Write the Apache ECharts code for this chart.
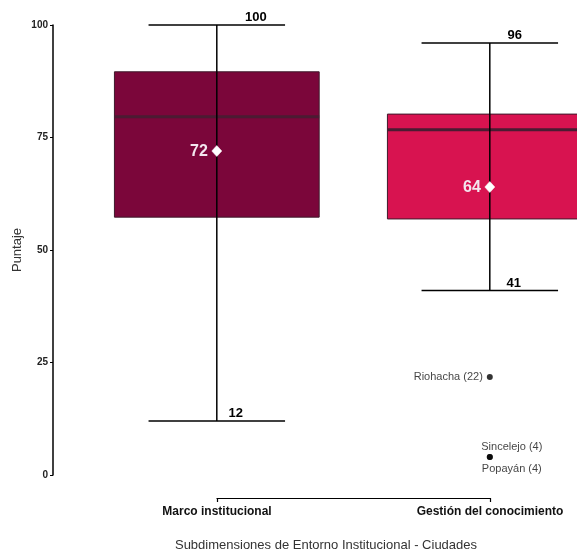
<!DOCTYPE html>
<html>
<head>
<meta charset="utf-8">
<script src="https://cdn.jsdelivr.net/npm/echarts@6/dist/echarts.min.js"></script>
<style>
html,body{margin:0;padding:0;background:#fff;}
#chart{width:577px;height:552px;}
</style>
</head>
<body>
<div id="chart"></div>
<script>
// ---- data ----
var categories = ['Marco institucional', 'Gestión del conocimiento'];
var whiskerLow = [12, 41];
var q1Values = [57.3, 56.9];
var medianValues = [79.6, 76.7];
var q3Values = [89.6, 80.2];
var whiskerHigh = [100, 96];
var meanValues = [72, 64];
var meanLabels = ['72', '64'];
var highLabels = ['100', '96'];
var lowLabels = ['12', '41'];
var outlierCategory = [1, 1, 1];
var outlierValues = [21.8, 4.0, 4.0];
var outlierNames = ['Riohacha (22)', 'Sincelejo (4)', 'Popayán (4)'];
var yTicks = [0, 25, 50, 75, 100];

// ---- styles (kept separate from data) ----
var boxColors = ['#7b063a', '#d81350'];
var highLabelDx = [39, 25];
var lowLabelDx = [19, 24];
var outlierLabelStyle = [
  {position: 'left', distance: 4, align: 'right'},
  {position: 'top', distance: 2, offset: [22, 0]},
  {position: 'bottom', distance: 3, offset: [22, 0]}
];
var FONT = '"Liberation Sans", Arial, sans-serif';

var boxData = categories.map(function (c, i) {
  return [i + 1, whiskerLow[i], q1Values[i], medianValues[i], q3Values[i], whiskerHigh[i], meanValues[i], i];
});
var outlierData = outlierValues.map(function (v, i) {
  return {
    value: [outlierCategory[i] + 1, v],
    name: outlierNames[i],
    label: Object.assign({show: true, formatter: outlierNames[i], color: '#111', fontSize: 11, fontFamily: FONT}, outlierLabelStyle[i])
  };
});

function renderBox(params, api) {
  var x = api.value(0), lo = api.value(1), q1 = api.value(2), med = api.value(3),
      q3 = api.value(4), hi = api.value(5), mean = api.value(6), idx = api.value(7);
  var bw = 0.375, cw = 0.25;
  var pL = api.coord([x - bw, q3]), pR = api.coord([x + bw, q1]);
  var c = api.coord([x, med]);
  var pHi = api.coord([x, hi]), pLo = api.coord([x, lo]);
  var capL = api.coord([x - cw, hi])[0], capR = api.coord([x + cw, hi])[0];
  var pm = api.coord([x, mean]);
  var boxLeft = pL[0], boxRight = pR[0];
  var children = [
    {type: 'rect', shape: {x: boxLeft, y: pL[1], width: boxRight - boxLeft, height: pR[1] - pL[1]},
      style: {fill: boxColors[idx], stroke: '#3d1a2b', lineWidth: 1}},
    {type: 'line', shape: {x1: boxLeft, y1: c[1], x2: boxRight, y2: c[1]},
      style: {stroke: '#4a1b32', lineWidth: 3}},
    {type: 'line', shape: {x1: pHi[0], y1: pHi[1], x2: pLo[0], y2: pLo[1]},
      style: {stroke: '#000', lineWidth: 1.5}},
    {type: 'line', shape: {x1: capL, y1: pHi[1], x2: capR, y2: pHi[1]},
      style: {stroke: '#000', lineWidth: 1.5}},
    {type: 'line', shape: {x1: capL, y1: pLo[1], x2: capR, y2: pLo[1]},
      style: {stroke: '#000', lineWidth: 1.5}},
    {type: 'polygon', shape: {points: [[pm[0], pm[1] - 5.5], [pm[0] + 5, pm[1]], [pm[0], pm[1] + 5.5], [pm[0] - 5, pm[1]]]},
      style: {fill: '#fff', stroke: '#fff', lineWidth: 0.5}},
    {type: 'text', style: {text: meanLabels[idx], x: pm[0] - 9, y: pm[1] + 1, align: 'right', verticalAlign: 'middle',
      fill: '#f3e6ee', font: 'bold 16px ' + FONT}},
    {type: 'text', style: {text: highLabels[idx], x: pHi[0] + highLabelDx[idx], y: pHi[1] - 1, align: 'center', verticalAlign: 'bottom',
      fill: '#000', font: 'bold 13px ' + FONT}},
    {type: 'text', style: {text: lowLabels[idx], x: pLo[0] + lowLabelDx[idx], y: pLo[1] - 1, align: 'center', verticalAlign: 'bottom',
      fill: '#000', font: 'bold 13px ' + FONT}}
  ];
  return {type: 'group', children: children};
}

var chart = echarts.init(document.getElementById('chart'), null, {renderer: 'canvas'});
chart.setOption({
  animation: false,
  backgroundColor: '#fff',
  grid: [
    {left: 53, top: 25, right: 0, height: 450, outerBoundsMode: 'none', containLabel: false},
    {left: 217, width: 273, top: 300, bottom: 54, outerBoundsMode: 'none', containLabel: false}
  ],
  xAxis: [
    {type: 'value', gridIndex: 0, min: 0.4, max: 2.3194,
      axisLine: {show: false}, axisTick: {show: false}, axisLabel: {show: false}, splitLine: {show: false},
      name: 'Subdimensiones de Entorno Institucional - Ciudades', nameLocation: 'middle', nameGap: 64,
      nameTextStyle: {fontSize: 13, color: '#333', fontFamily: FONT, padding: [0, 0, 0, 22]}},
    {type: 'category', gridIndex: 1, data: categories, boundaryGap: false,
      axisLine: {show: true, lineStyle: {color: '#000', width: 1.2}},
      axisTick: {show: true, length: 4, lineStyle: {color: '#000', width: 1.2}},
      axisLabel: {show: true, color: '#111', fontWeight: 'bold', fontSize: 12, fontFamily: FONT, margin: 8},
      splitLine: {show: false}}
  ],
  yAxis: [
    {type: 'value', gridIndex: 0, min: yTicks[0], max: yTicks[yTicks.length - 1], interval: 25,
      axisLine: {show: true, lineStyle: {color: '#000', width: 1.5}},
      axisTick: {show: true, length: 3, lineStyle: {color: '#000', width: 1}},
      axisLabel: {color: '#222', fontWeight: 'bold', fontSize: 10, fontFamily: FONT, margin: 5},
      splitLine: {show: false},
      name: 'Puntaje', nameLocation: 'middle', nameGap: 29, nameMoveOverlap: false,
      nameTextStyle: {fontSize: 13, color: '#333', fontFamily: FONT}},
    {type: 'value', gridIndex: 1, show: false}
  ],
  series: [
    {type: 'custom', xAxisIndex: 0, yAxisIndex: 0, data: boxData, renderItem: renderBox, clip: false, z: 2},
    {type: 'scatter', xAxisIndex: 0, yAxisIndex: 0, data: outlierData, symbol: 'circle', symbolSize: 6,
      itemStyle: {color: '#000'}, z: 3}
  ]
});
</script>
</body>
</html>
